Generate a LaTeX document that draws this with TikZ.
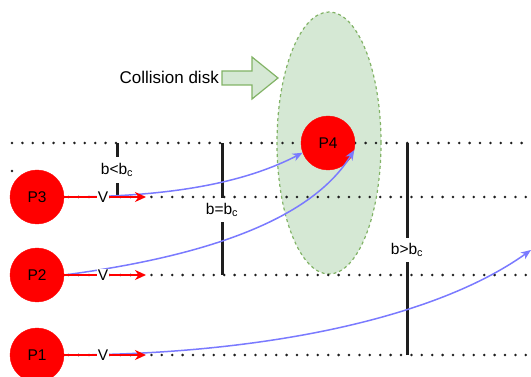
\documentclass[tikz,border=0pt]{standalone}
\usepackage{fontspec}
\setmainfont{Liberation Sans}
\usetikzlibrary{arrows.meta,shapes.geometric}
\definecolor{pred}{RGB}{255,0,0}
\definecolor{pblue}{RGB}{122,122,255}
\definecolor{dgreen}{RGB}{213,232,212}
\definecolor{sgreen}{RGB}{130,179,102}
\definecolor{dark}{RGB}{30,30,30}
\begin{document}
\begin{tikzpicture}[x=1pt,y=-1pt,
  particle/.style={circle,fill=pred,draw=pred,minimum size=54pt,inner sep=0pt,font=\fontsize{15.5}{15.5}\selectfont},
  dotline/.style={draw=dark,line width=2.8pt,line cap=round,dash pattern=on 0pt off 10.4pt},
  vline/.style={draw=dark,line width=3pt},
  blabel/.style={font=\fontsize{15.5}{16}\selectfont,inner sep=0pt,minimum height=25pt},
  vel/.style={-{Stealth[length=11pt,width=10pt,inset=3.5pt]},draw=pred,line width=2.2pt},
  traj/.style={-{Stealth[length=10pt,width=8pt,inset=3pt]},draw=pblue,line width=1.5pt},
  vlab/.style={fill=white,inner sep=1pt,font=\fontsize{15.5}{15.5}\selectfont},
  disk/.style={ellipse,draw=sgreen,fill=dgreen,dash pattern=on 3pt off 3pt,line width=1.2pt,minimum width=104pt,minimum height=262pt,inner sep=0pt},
  blockarrow/.style={fill=dgreen,draw=sgreen,line width=1.2pt,line join=miter},
]
\useasboundingbox (0,0) rectangle (531,377);

% collision disk
\node[disk] (cd) at (329,143) {};
\draw[blockarrow] (222,71) -- (252,71) -- (252,57) -- (278,78) -- (252,99) -- (252,85) -- (222,85) -- cycle;
\node[anchor=east,inner sep=0pt,font=\fontsize{17}{17}\selectfont] (cdlab) at (219,77) {Collision disk};

% particles positions
\coordinate (c3) at (37,197);
\coordinate (c2) at (37,275);
\coordinate (c1) at (37,355);

% coordinates for dotted lines
\coordinate (tl) at (12,143);
\coordinate (tr) at (531,143);
\coordinate (r3) at (531,197);
\coordinate (r2) at (531,275);
\coordinate (r1) at (531,355);

% arrow tips of velocity
\coordinate (h3) at (146,197);
\coordinate (h2) at (146,275);
\coordinate (h1) at (146,355);

% dotted lines
\draw[dotline] (tl) -- (tr);
\draw[dotline] (c3) -- (r3);
\draw[dotline] (c2) -- (r2);
\draw[dotline] (c1) -- (r1);
\fill[dark] (12,171) circle (1.4pt);

% impact parameter bars
\coordinate (a1t) at (117,143);
\coordinate (a1b) at (117,197);
\node[blabel] (b1) at (117,170) {b<b\textsubscript{c}};
\draw[vline] (a1t) -- (a1t |- b1.north);
\draw[vline] (a1b) -- (a1b |- b1.south);

\coordinate (a2t) at (222,143);
\coordinate (a2b) at (222,275);
\node[blabel,minimum height=24pt] (b2) at (222,210) {b=b\textsubscript{c}};
\draw[vline] (a2t) -- (a2t |- b2.north);
\draw[vline] (a2b) -- (a2b |- b2.south);

\coordinate (a3t) at (407,143);
\coordinate (a3b) at (407,355);
\node[blabel,minimum height=24pt] (b3) at (407,250) {b>b\textsubscript{c}};
\draw[vline] (a3t) -- (a3t |- b3.north);
\draw[vline] (a3b) -- (a3b |- b3.south);

% particles
\node[particle] (P3) at (c3) {P3};
\node[particle] (P2) at (c2) {P2};
\node[particle] (P1) at (c1) {P1};
\node[particle] (P4) at (328,143) {P4};

% trajectories
\coordinate (e1) at (531,250);
\draw[traj] (P3.east) .. controls (180,197) and (250,180) .. (P4.201);
\draw[traj] (P2.east) .. controls (200,257) and (310,222) .. (P4.-15);
\draw[traj] (P1.east) .. controls (250,355) and (430,322) .. (e1);

% red velocity arrows
\draw[vel] (P3.east) -- (h3);
\draw[vel] (P2.east) -- (h2);
\draw[vel] (P1.east) -- (h1);

% V labels
\node[vlab] (v3) at (103,197) {V};
\node[vlab] (v2) at (103,275) {V};
\node[vlab] (v1) at (103,355) {V};
\end{tikzpicture}
\end{document}
